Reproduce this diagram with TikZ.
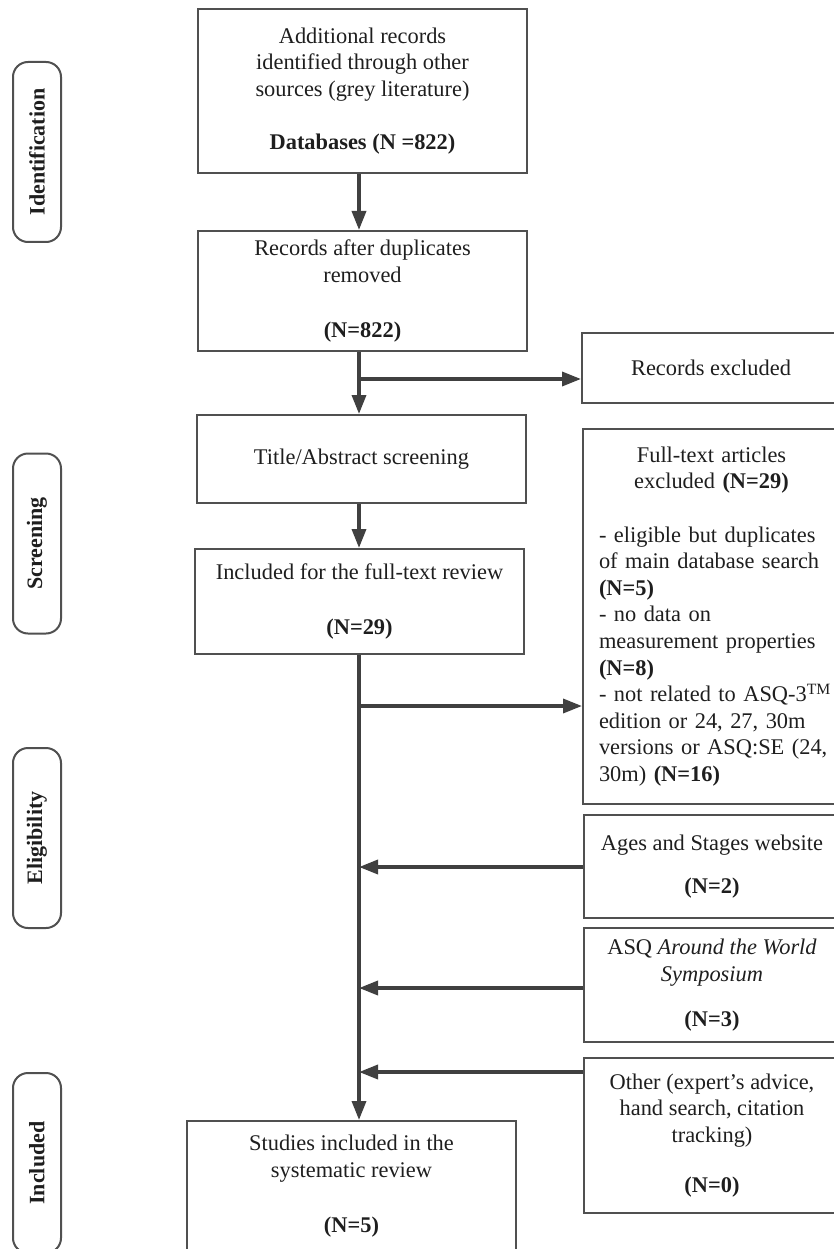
\documentclass[tikz,border=0pt]{standalone}
\usepackage{fontspec}
\setmainfont{Liberation Serif}
\usetikzlibrary{arrows.meta}
\definecolor{boxline}{HTML}{505050}
\definecolor{arrline}{HTML}{404040}
\definecolor{txt}{HTML}{1E1E1E}
\begin{document}
\begin{tikzpicture}[x=1pt,y=-1pt,
  every node/.style={text=txt,font=\fontsize{22.4}{26.6}\selectfont},
  box/.style={draw=boxline,line width=2pt,rectangle,inner sep=0pt,align=center},
  phase/.style={draw=boxline,line width=2pt,rectangle,rounded corners=15pt,rotate=90,
     minimum width=180pt,minimum height=48pt,inner sep=0pt,font=\fontsize{22}{26.5}\selectfont\bfseries},
  arr/.style={draw=arrline,line width=3.5pt,-{Triangle[length=19pt,width=14pt]}},
  ln/.style={draw=arrline,line width=3.5pt}]
\useasboundingbox (0,0) rectangle (834,1249);

% phase labels
\node[phase] (pid) at (37,152) {Identification};
\node[phase] (psc) at (37,543.5) {Screening};
\node[phase] (pel) at (37,838) {Eligibility};
\node[phase] (pin) at (37,1163) {Included};

% main column
\node[box,minimum width=329pt,minimum height=164pt] (top) at (362.5,91)
  {Additional records\\identified through other\\sources (grey literature)\\[26.5pt]\textbf{Databases (N =822)}};
\node[box,minimum width=329pt,minimum height=120pt] (rec) at (362.5,291)
  {Records after duplicates\\removed\\[28.5pt]\textbf{(N=822)}};
\node[box,minimum width=329pt,minimum height=88pt] (title) at (361.5,459)
  {Title/Abstract screening};
\node[box,minimum width=329pt,minimum height=105pt] (incl) at (359.5,601.5)
  {Included for the full-text review\\[28.5pt]\textbf{(N=29)}};
\node[box,minimum width=329pt,minimum height=130pt] (final) at (351.5,1186)
  {Studies included in the\\systematic review\\[28.5pt]\textbf{(N=5)}};

% right column
\node[box,minimum width=258pt,minimum height=70pt] (recx) at (711,368)
  {Records excluded};
\node[box,anchor=north west,minimum height=375pt,inner xsep=16pt,text width=245pt,align=left] (ft) at (582,428)
  {\makebox[225pt][c]{Full-text articles}\\\makebox[225pt][c]{excluded \textbf{(N=29)}}\\[26.5pt]%
   - eligible but duplicates\\of main database search\\\textbf{(N=5)}\\- no data on\\measurement properties\\\textbf{(N=8)}\\- not related to ASQ-3\textsuperscript{TM}\\edition or 24, 27, 30m\\versions or ASQ:SE (24,\\30m) \textbf{(N=16)}};
\node[box,minimum width=256pt,minimum height=103pt] (ages) at (712,866.5)
  {Ages and Stages website\\[17pt]\textbf{(N=2)}};
\node[box,minimum width=256pt,minimum height=114pt] (asq) at (712,985)
  {ASQ \textit{Around the World}\\\textit{Symposium}\\[18.5pt]\textbf{(N=3)}};
\node[box,minimum width=256pt,minimum height=155pt] (other) at (712,1135.5)
  {Other (expert’s advice,\\hand search, citation\\tracking)\\[23.5pt]\textbf{(N=0)}};

% spine coordinates
\coordinate (sp) at (359,0);
\coordinate (b1) at (359,379);
\coordinate (b2) at (359,706);
\coordinate (a1) at (359,867);
\coordinate (a2) at (359,988);
\coordinate (a3) at (359,1072);

% connectors
\draw[arr] (top.south -| sp) -- (rec.north -| sp);
\draw[arr] (rec.south -| sp) -- (title.north -| sp);
\draw[arr] (b1) -- (b1 -| recx.west);
\draw[arr] (title.south -| sp) -- (incl.north -| sp);
\draw[arr] (incl.south -| sp) -- (final.north -| sp);
\draw[arr] (b2) -- (b2 -| ft.west);
\draw[arr] (a1 -| ages.west) -- (a1);
\draw[arr] (a2 -| asq.west) -- (a2);
\draw[arr] (a3 -| other.west) -- (a3);
\end{tikzpicture}
\end{document}
